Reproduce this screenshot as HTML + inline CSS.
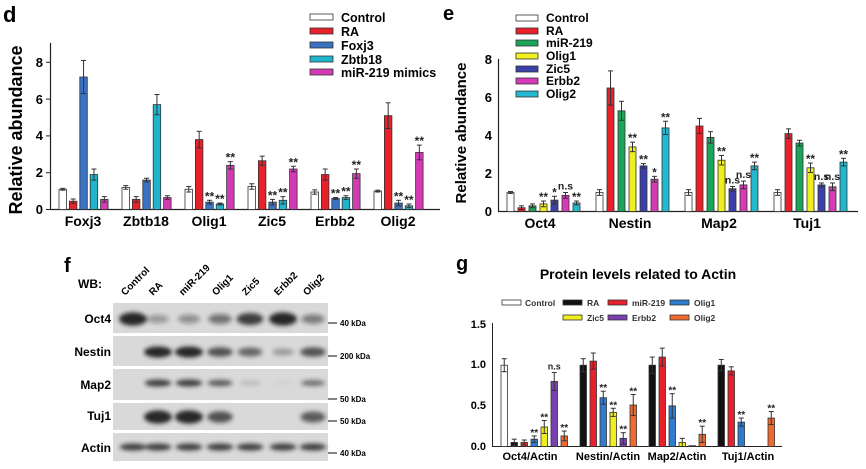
<!DOCTYPE html>
<html><head><meta charset="utf-8"><style>
html,body{margin:0;padding:0;background:#fff}
svg{display:block;font-family:"Liberation Sans",Arial,sans-serif;font-weight:bold}
</style></head><body>
<svg id="s" width="866" height="469" viewBox="0 0 866 469" xmlns="http://www.w3.org/2000/svg">
<defs>
<filter id="bl" x="-50%" y="-100%" width="200%" height="300%"><feGaussianBlur stdDeviation="2.2"/></filter>
</defs>
<!-- Panel d -->
<text x="3" y="22" font-size="22">d</text>
<text transform="translate(22,130) rotate(-90)" text-anchor="middle" font-size="18">Relative abundance</text>
<g font-size="13" text-anchor="end">
<text x="43" y="214">0</text><text x="43" y="177">2</text><text x="43" y="140">4</text><text x="43" y="104">6</text><text x="43" y="67">8</text>
</g>
<line x1="50.5" y1="43" x2="50.5" y2="209.5" stroke="#222" stroke-width="1.2"/>
<line x1="50" y1="209.5" x2="440" y2="209.5" stroke="#222" stroke-width="1.2"/>
<g stroke="#222"><line x1="46" y1="209.5" x2="50" y2="209.5"/><line x1="46" y1="172.7" x2="50" y2="172.7"/><line x1="46" y1="135.9" x2="50" y2="135.9"/><line x1="46" y1="99.1" x2="50" y2="99.1"/><line x1="46" y1="62.3" x2="50" y2="62.3"/></g>
<g font-size="14" text-anchor="middle">
<text x="83" y="226">Foxj3</text><text x="146" y="226">Zbtb18</text><text x="209" y="226">Olig1</text><text x="272" y="226">Zic5</text><text x="335" y="226">Erbb2</text><text x="398" y="226">Olig2</text>
</g>
<g stroke="#333" stroke-width="0.8">
<rect x="310" y="14" width="23" height="6" fill="#fff"/>
<rect x="310" y="28" width="23" height="6" fill="#e8202a"/>
<rect x="310" y="42" width="23" height="6" fill="#3a72c4"/>
<rect x="310" y="56" width="23" height="6" fill="#1fb5cc"/>
<rect x="310" y="69" width="23" height="6" fill="#d43ab4"/>
</g>
<g font-size="12.5">
<text x="341" y="22">Control</text><text x="341" y="36">RA</text><text x="341" y="50">Foxj3</text><text x="341" y="64">Zbtb18</text><text x="341" y="77">miR-219 mimics</text>
</g>

<!-- Panel e -->
<text x="443" y="20" font-size="20">e</text>
<text transform="translate(466,133) rotate(-90)" text-anchor="middle" font-size="15">Relative abundance</text>
<g font-size="13" text-anchor="end">
<text x="492" y="216">0</text><text x="492" y="178">2</text><text x="492" y="140">4</text><text x="492" y="102">6</text><text x="492" y="64">8</text>
</g>
<line x1="498.5" y1="59" x2="498.5" y2="211.5" stroke="#222" stroke-width="1.2"/>
<line x1="498" y1="211.5" x2="858" y2="211.5" stroke="#222" stroke-width="1.2"/>
<g font-size="14" text-anchor="middle">
<text x="540" y="228">Oct4</text><text x="630" y="228">Nestin</text><text x="719" y="228">Map2</text><text x="807" y="228">Tuj1</text>
</g>
<g stroke="#333" stroke-width="0.8">
<rect x="516" y="15" width="22" height="6" fill="#fff"/>
<rect x="516" y="28" width="22" height="6" fill="#e8202a"/>
<rect x="516" y="40" width="22" height="6" fill="#1aa55a"/>
<rect x="516" y="53" width="22" height="6" fill="#f0ee1e"/>
<rect x="516" y="66" width="22" height="6" fill="#3a40a8"/>
<rect x="516" y="78" width="22" height="6" fill="#d63ab8"/>
<rect x="516" y="91" width="22" height="6" fill="#22b8d0"/>
</g>
<g font-size="12">
<text x="546" y="22">Control</text><text x="546" y="35">RA</text><text x="546" y="47">miR-219</text><text x="546" y="60">Olig1</text><text x="546" y="73">Zic5</text><text x="546" y="85">Erbb2</text><text x="546" y="98">Olig2</text>
</g>

<!-- Panel f -->
<text x="64" y="272" font-size="20">f</text>
<text x="78" y="288" font-size="12">WB:</text>
<g font-size="10">
<text transform="translate(125,296) rotate(-45)">Control</text>
<text transform="translate(153,296) rotate(-45)">RA</text>
<text transform="translate(183,296) rotate(-45)">miR-219</text>
<text transform="translate(216,296) rotate(-45)">Olig1</text>
<text transform="translate(246,296) rotate(-45)">Zic5</text>
<text transform="translate(278,296) rotate(-45)">Erbb2</text>
<text transform="translate(307,296) rotate(-45)">Olig2</text>
</g>
<g fill="#d9d9d9">
<rect x="113" y="303" width="215" height="30"/>
<rect x="113" y="336" width="215" height="30"/>
<rect x="113" y="369" width="215" height="31"/>
<rect x="113" y="403" width="215" height="27"/>
<rect x="113" y="433" width="215" height="28"/>
</g>
<g id="bands" filter="url(#bl)" fill="#1a1a1a"></g>
<g font-size="12" text-anchor="end">
<text x="111" y="323">Oct4</text><text x="111" y="356">Nestin</text><text x="111" y="389">Map2</text><text x="111" y="420">Tuj1</text><text x="111" y="452">Actin</text>
</g>
<g stroke="#333" stroke-width="1.2">
<line x1="328" y1="323" x2="337" y2="323"/><line x1="328" y1="356" x2="337" y2="356"/><line x1="328" y1="399" x2="337" y2="399"/><line x1="328" y1="421" x2="337" y2="421"/><line x1="328" y1="453" x2="337" y2="453"/>
</g>
<g font-size="8">
<text x="340" y="326">40 kDa</text><text x="340" y="359">200 kDa</text><text x="340" y="402">50 kDa</text><text x="340" y="424">50 kDa</text><text x="340" y="456">40 kDa</text>
</g>

<!-- Panel g -->
<text x="456" y="270" font-size="20">g</text>
<text x="638" y="279" font-size="14" text-anchor="middle">Protein levels related to Actin</text>
<g stroke="#333" stroke-width="0.8">
<rect x="502" y="300" width="19" height="5" fill="#fff"/>
<rect x="563" y="300" width="19" height="5" fill="#111"/>
<rect x="608" y="300" width="19" height="5" fill="#e8202a"/>
<rect x="670" y="300" width="19" height="5" fill="#2f7bd0"/>
<rect x="563" y="315" width="19" height="5" fill="#f0ee1e"/>
<rect x="608" y="315" width="19" height="5" fill="#7a3fb0"/>
<rect x="670" y="315" width="19" height="5" fill="#f06a30"/>
</g>
<g font-size="8.5" fill="#333">
<text x="525" y="306">Control</text><text x="587" y="306">RA</text><text x="632" y="306">miR-219</text><text x="694" y="306">Olig1</text>
<text x="587" y="321">Zic5</text><text x="632" y="321">Erbb2</text><text x="694" y="321">Olig2</text>
</g>
<g font-size="11" text-anchor="end">
<text x="486" y="450">0.0</text><text x="486" y="409">0.5</text><text x="486" y="368">1.0</text><text x="486" y="328">1.5</text>
</g>
<line x1="492.5" y1="323" x2="492.5" y2="446.5" stroke="#222" stroke-width="1"/>
<line x1="492" y1="446.5" x2="782" y2="446.5" stroke="#222" stroke-width="1"/>
<g font-size="11" text-anchor="middle">
<text x="530" y="460">Oct4/Actin</text><text x="608" y="460">Nestin/Actin</text><text x="677" y="460">Map2/Actin</text><text x="748" y="460">Tuj1/Actin</text>
</g>
<g id="bars"></g>
</svg>
<script>
var NS="http://www.w3.org/2000/svg",B=document.getElementById("bars");
function el(t,a,p){var e=document.createElementNS(NS,t);for(var k in a)e.setAttribute(k,a[k]);(p||B).appendChild(e);return e;}
function chart(c){
 c.data.forEach(function(g,gi){g.forEach(function(b,i){
  if(!b)return;var v=b[0],er=b[1],lab=b[2];
  var x=c.x0+gi*c.gs+i*c.bs,w=c.w,cx=x+w/2;
  var yv=c.y0-v*c.u;
  el("rect",{x:x,y:yv,width:w,height:v*c.u,fill:c.col[i],stroke:"#333","stroke-width":0.8});
  if(er>0){var yt=c.y0-(v+er)*c.u,yb=c.y0-Math.max(0,v-er)*c.u;
   el("line",{x1:cx,y1:yt,x2:cx,y2:yb,stroke:"#333","stroke-width":1});
   el("line",{x1:cx-2.5,y1:yt,x2:cx+2.5,y2:yt,stroke:"#333","stroke-width":1});
   el("line",{x1:cx-2.5,y1:yb,x2:cx+2.5,y2:yb,stroke:"#333","stroke-width":1});}
  if(lab){var t=el("text",{x:cx,y:c.y0-(v+er)*c.u-(lab=="n.s"?3:0),"text-anchor":"middle","font-size":lab=="n.s"?c.fs-1:c.fs,fill:"#222"});t.textContent=lab;}
 });});
}
chart({x0:59,gs:63,bs:10.4,w:7.5,y0:209.5,u:18.4,fs:12,
 col:["#fff","#e8202a","#3a72c4","#1fb5cc","#d43ab4"],
 data:[[[1.1,.05],[.45,.12],[7.2,.9],[1.9,.3],[.55,.15]],
 [[1.2,.1],[.55,.15],[1.6,.1],[5.7,.55],[.65,.1]],
 [[1.1,.15],[3.8,.45],[.4,.1,"**"],[.3,.05,"**"],[2.4,.2,"**"]],
 [[1.25,.15],[2.65,.25],[.4,.15,"**"],[.5,.2,"**"],[2.2,.15,"**"]],
 [[.95,.12],[1.9,.3],[.6,.05,"**"],[.65,.1,"**"],[1.95,.25,"**"]],
 [[1.0,.05],[5.1,.7],[.35,.15,"**"],[.2,.1,"**"],[3.1,.4,"**"]]]});
chart({x0:507,gs:89,bs:11,w:7,y0:211.5,u:19,fs:11.5,
 col:["#fff","#e8202a","#1aa55a","#f0ee1e","#3a40a8","#d63ab8","#22b8d0"],
 data:[[[1,.05],[.2,.1],[.3,.1],[.4,.15,"**"],[.6,.2,"*"],[.85,.15,"n.s"],[.45,.1,"**"]],
 [[1,.15],[6.5,.9],[5.3,.5],[3.4,.25,"**"],[2.4,.12,"**"],[1.7,.15,"*"],[4.4,.35,"**"]],
 [[1,.15],[4.5,.4],[3.9,.3],[2.7,.25,"**"],[1.2,.12,"n.s"],[1.4,.2,"n.s"],[2.4,.2,"**"]],
 [[1,.15],[4.1,.25],[3.6,.15],[2.3,.25,"**"],[1.4,.1,"n.s"],[1.3,.2,"n.s"],[2.6,.2,"**"]]]});
chart({x0:501,gs:69,bs:10,w:6.5,y0:446.5,u:81.3,fs:10,
 col:["#fff","#111","#e8202a","#2f7bd0","#f0ee1e","#7a3fb0","#f06a30"],
 data:[[[1,.08],[.05,.04],[.05,.03],[.09,.04,"**"],[.24,.08,"**"],[.8,.11,"n.s"],[.13,.06,"**"]],
 [null,[1,.08],[1.05,.1],[.6,.08,"**"],[.42,.05,"**"],[.1,.07,"**"],[.51,.13,"**"]],
 [null,[1,.1],[1.1,.11],[.5,.15,"**"],[.05,.05],[.01,0],[.15,.1,"**"]],
 [null,[1,.07],[.93,.05],[.3,.05,"**"],[0,0],[0,0],[.35,.08,"**"]]]});
var BD=document.getElementById("bands"),lanes=[133,158,189,220,250,283,313];
var rows=[[319,[1,.35,.4,.55,.85,1,.5],6],[352,[0,1,1,.75,.65,.35,.75],5],[383,[0,.85,.85,.7,.2,.05,.6],3.5],[417,[0,1,1,.75,0,0,.7],6],[447,[.85,.85,.85,.85,.85,.85,.85],3.5]];
rows.forEach(function(r){r[1].forEach(function(v,i){if(v<=0)return;
 el("ellipse",{cx:lanes[i],cy:r[0],rx:9+v*5,ry:r[2]*(0.5+v*0.6),"fill-opacity":Math.min(1,v*0.95)},BD);});});
</script>
</body></html>
